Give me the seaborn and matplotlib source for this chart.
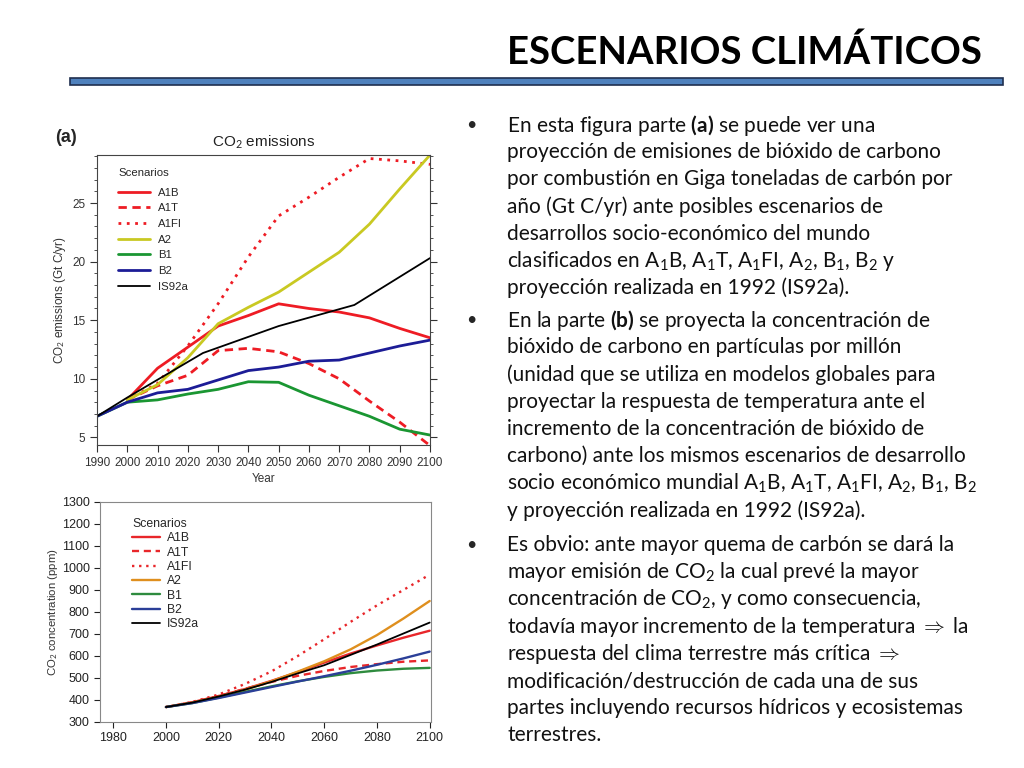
import seaborn as sns
import matplotlib.pyplot as plt
from matplotlib.patches import Rectangle
from matplotlib.ticker import MultipleLocator

# ---- (a) CO2 emissions (Gt C/yr) ----
years_a = [1990, 2000, 2010, 2020, 2030, 2040, 2050, 2060, 2070, 2080, 2090, 2100]
years_a_sres = [2000, 2010, 2020, 2030, 2040, 2050, 2060, 2070, 2080, 2090, 2100]
a1b_em = [8.2, 10.9, 12.7, 14.5, 15.4, 16.4, 16.0, 15.7, 15.2, 14.3, 13.5]
a1t_em = [8.2, 9.4, 10.3, 12.4, 12.6, 12.3, 11.3, 10.0, 8.1, 6.3, 4.3]
a1fi_em = [8.2, 9.6, 12.8, 16.4, 20.4, 23.9, 25.5, 27.2, 28.8, 28.6, 28.3]
a2_em = [8.2, 9.5, 11.8, 14.7, 16.1, 17.4, 19.1, 20.8, 23.2, 26.2, 29.1]
b1_em = [6.8, 8.0, 8.2, 8.7, 9.1, 9.75, 9.7, 8.6, 7.7, 6.8, 5.7, 5.2]
b2_em = [6.8, 8.0, 8.8, 9.1, 9.9, 10.7, 11.0, 11.5, 11.6, 12.2, 12.8, 13.3]
years_is92a = [1990, 2000, 2025, 2050, 2075, 2100]
is92a_em = [6.8, 8.4, 12.2, 14.5, 16.3, 20.3]

# ---- (b) CO2 concentration (ppm) ----
years_b = [2000, 2010, 2020, 2030, 2040, 2050, 2060, 2070, 2080, 2090, 2100]
a1b_ppm = [368, 390, 418, 450, 487, 527, 570, 611, 648, 683, 715]
a1t_ppm = [368, 389, 418, 451, 482, 510, 532, 550, 563, 574, 580]
a1fi_ppm = [368, 391, 425, 473, 530, 600, 676, 755, 830, 900, 970]
a2_ppm = [368, 388, 415, 447, 485, 529, 576, 630, 695, 770, 850]
b1_ppm = [368, 386, 411, 437, 462, 485, 505, 522, 534, 542, 546]
b2_ppm = [368, 386, 409, 434, 459, 484, 508, 533, 560, 589, 620]
is92a_ppm = [368, 388, 416, 447, 482, 521, 558, 605, 652, 702, 752]

scenarios = ['A1B', 'A1T', 'A1FI', 'A2', 'B1', 'B2', 'IS92a']

bullets = [
    ["En esta figura parte $\\mathbf{(a)}$ se puede ver una",
     "proyección de emisiones de bióxido de carbono",
     "por combustión en Giga toneladas de carbón por",
     "año (Gt C/yr) ante posibles escenarios de",
     "desarrollos socio-económico del mundo",
     "clasificados en A$_1$B, A$_1$T, A$_1$FI, A$_2$, B$_1$, B$_2$ y",
     "proyección realizada en 1992 (IS92a)."],
    ["En la parte $\\mathbf{(b)}$ se proyecta la concentración de",
     "bióxido de carbono en partículas por millón",
     "(unidad que se utiliza en modelos globales para",
     "proyectar la respuesta de temperatura ante el",
     "incremento de la concentración de bióxido de",
     "carbono) ante los mismos escenarios de desarrollo",
     "socio económico mundial A$_1$B, A$_1$T, A$_1$FI, A$_2$, B$_1$, B$_2$",
     "y proyección realizada en 1992 (IS92a)."],
    ["Es obvio: ante mayor quema de carbón se dará la",
     "mayor emisión de CO$_2$ la cual prevé la mayor",
     "concentración de CO$_2$, y como consecuencia,",
     "todavía mayor incremento de la temperatura $\\Rightarrow$ la",
     "respuesta del clima terrestre más crítica $\\Rightarrow$",
     "modificación/destrucción de cada una de sus",
     "partes incluyendo recursos hídricos y ecosistemas",
     "terrestres."],
]

sns.set_style('white')
plt.rcParams['font.family'] = ['Liberation Sans', 'DejaVu Sans']
plt.rcParams['mathtext.fontset'] = 'custom'
plt.rcParams['mathtext.rm'] = 'Lato'
plt.rcParams['mathtext.bf'] = 'Lato:bold'
plt.rcParams['mathtext.it'] = 'Lato:italic'

fig = plt.figure(figsize=(10.24, 7.68), dpi=100)
W, H = 1024, 768

def fx(x):
    return x / W

def fy(y):
    return 1 - y / H

# title + bar
fig.text(fx(507), fy(52), 'ESCENARIOS CLIMÁTICOS', family='Lato', weight='bold',
         fontsize=27.5, va='center', ha='left', color='black')
fig.patches.append(Rectangle((fx(70), fy(85)), fx(933), 7 / H, transform=fig.transFigure,
                             facecolor='#4f81bd', edgecolor='#1f2f4f', lw=1.2))

# bullet text
start_y = [125, 320, 545]
for b, lines in enumerate(bullets):
    y0 = start_y[b]
    fig.text(fx(466), fy(y0), '•', family='Lato', fontsize=13, va='center', ha='left')
    for i, line in enumerate(lines):
        fig.text(fx(507), fy(y0 + i * 27.2), line, family='Lato', fontsize=15,
                 va='center', ha='left', color='#111111')

red = '#ee1c24'
col_a = {'A1B': red, 'A1T': red, 'A1FI': red, 'A2': '#c9c922', 'B1': '#1a9632',
         'B2': '#1c1c96', 'IS92a': 'black'}
col_b = {'A1B': '#e8262a', 'A1T': '#e8262a', 'A1FI': '#e8262a', 'A2': '#df8f1e',
         'B1': '#2e8b3e', 'B2': '#2b3f98', 'IS92a': 'black'}
ls = {'A1B': '-', 'A1T': (0, (3, 2)), 'A1FI': (0, (1, 2)), 'A2': '-', 'B1': '-',
      'B2': '-', 'IS92a': '-'}

# ---- panel (a) ----
ax = fig.add_axes([fx(97), fy(445), fx(333), 290 / H])
series_a = {'A1B': (years_a_sres, a1b_em), 'A1T': (years_a_sres, a1t_em),
            'A1FI': (years_a_sres, a1fi_em), 'A2': (years_a_sres, a2_em),
            'B1': (years_a, b1_em), 'B2': (years_a, b2_em),
            'IS92a': (years_is92a, is92a_em)}
for s in scenarios:
    xs, ys = series_a[s]
    sns.lineplot(x=xs, y=ys, ax=ax, color=col_a[s], linestyle=ls[s],
                 lw=1.3 if s == 'IS92a' else 2.0, label=s)
ax.set_xlim(1990, 2100)
ax.set_ylim(4.35, 29.1)
ax.set_xticks(range(1990, 2101, 10))
ax.set_yticks([5, 10, 15, 20, 25])
ax.yaxis.set_minor_locator(MultipleLocator(1))
ax.tick_params(axis='both', which='both', direction='out', labelsize=8.5,
               colors='#333333', right=True, left=True, bottom=True)
ax.tick_params(which='major', length=5, width=0.8)
ax.tick_params(which='minor', length=2.5, width=0.6)
for sp in ax.spines.values():
    sp.set_color('#444444')
    sp.set_linewidth(0.8)
ax.set_xlabel('Year', fontsize=8.5, color='#333333', labelpad=3)
ax.set_ylabel('CO$_2$ emissions (Gt C/yr)', fontsize=8.5, color='#333333')
ax.yaxis.set_label_coords(-0.087, 0.5)
ax.set_title('CO$_2$ emissions', fontsize=11, color='#222222', pad=6)
fig.text(fx(55), fy(137), '(a)', fontsize=13, weight='bold', va='center', ha='left')
leg = ax.legend(title='Scenarios', loc='upper left', bbox_to_anchor=(0.047, 0.975),
                frameon=False, fontsize=8.2, title_fontsize=8.2, handlelength=2.8,
                labelspacing=0.5, borderpad=0, handletextpad=0.7)
leg._legend_box.align = 'left'
leg._legend_box.sep = 7

# ---- panel (b) ----
bx = fig.add_axes([fx(100), fy(722), fx(331), 220 / H])
series_b = {'A1B': a1b_ppm, 'A1T': a1t_ppm, 'A1FI': a1fi_ppm, 'A2': a2_ppm,
            'B1': b1_ppm, 'B2': b2_ppm, 'IS92a': is92a_ppm}
for s in scenarios:
    sns.lineplot(x=years_b, y=series_b[s], ax=bx, color=col_b[s], linestyle=ls[s],
                 lw=1.3 if s == 'IS92a' else 1.7, label=s)
bx.set_xlim(1975, 2100.5)
bx.set_ylim(300, 1300)
bx.set_xticks(range(1980, 2101, 20))
bx.set_yticks(range(300, 1301, 100))
bx.tick_params(axis='both', direction='out', labelsize=9, colors='#222222',
               length=4, width=0.8, left=True, bottom=True)
for sp in bx.spines.values():
    sp.set_color('#888888')
    sp.set_linewidth(0.8)
bx.set_ylabel('CO$_2$ concentration (ppm)', fontsize=8.2, color='#333333')
bx.yaxis.set_label_coords(-0.12, 0.5)
leg = bx.legend(title='Scenarios', loc='upper left', bbox_to_anchor=(0.078, 0.955),
                frameon=False, fontsize=8.8, title_fontsize=8.8, handlelength=2.3,
                labelspacing=0.19, borderpad=0, handletextpad=0.6)
leg._legend_box.align = 'left'

plt.savefig('out.png', dpi=100)
